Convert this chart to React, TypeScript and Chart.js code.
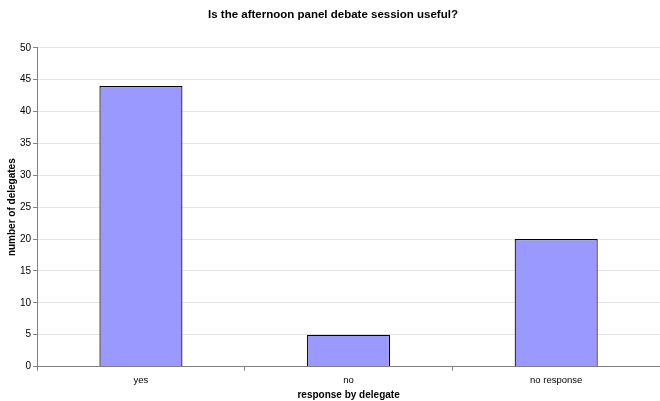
import React, { useEffect, useRef } from "react";
import { Chart, registerables } from "chart.js";

Chart.register(...registerables);

const categories = ["yes", "no", "no response"];
const delegates = [44, 5, 20];
const titleText = "Is the afternoon panel debate session useful?";
const xTitle = "response by delegate";
const yTitle = "number of delegates";

export default function App() {
  const ref = useRef<HTMLCanvasElement>(null);
  useEffect(() => {
    if (!ref.current) return;
    const chart = new Chart(ref.current, {
      type: "bar",
      data: {
        labels: categories,
        datasets: [
          {
            data: delegates,
            backgroundColor: "#9999ff",
            borderColor: "#000000",
            borderWidth: 1.2,
            borderSkipped: "bottom",
            barPercentage: 0.4,
            categoryPercentage: 1,
          },
        ],
      },
      options: {
        animation: false,
        responsive: false,
        layout: { padding: { left: 6, right: 0, top: 8, bottom: 0 } },
        plugins: {
          legend: { display: false },
          tooltip: { enabled: false },
          title: {
            display: true,
            text: titleText,
            color: "#000",
            font: { family: "Liberation Sans, Arial", size: 11.5, weight: "bold" },
            padding: { top: 0, bottom: 26 },
          },
        },
        scales: {
          x: {
            grid: { display: true, drawOnChartArea: false, drawTicks: true, tickLength: 4, color: "#808080", offset: true },
            border: { color: "#808080" },
            ticks: { color: "#000", font: { family: "Liberation Sans, Arial", size: 9.5 }, padding: 4 },
            title: {
              display: true,
              text: xTitle,
              color: "#000",
              font: { family: "Liberation Sans, Arial", size: 10, weight: "bold" },
              padding: { top: -1, bottom: 0 },
            },
          },
          y: {
            min: 0,
            max: 50,
            ticks: { stepSize: 5, color: "#000", font: { family: "Liberation Sans, Arial", size: 10 }, padding: 2 },
            grid: { color: "#e6e6e6", tickLength: 4, tickColor: "#808080" },
            border: { color: "#808080" },
            title: {
              display: true,
              text: yTitle,
              color: "#000",
              font: { family: "Liberation Sans, Arial", size: 10, weight: "bold" },
              padding: { top: 0, bottom: 0 },
            },
          },
        },
      },
    });
    return () => chart.destroy();
  }, []);
  return (
    <div style={{ position: "absolute", left: 0, top: 0, width: 660, height: 401, background: "#fff" }}>
      <canvas ref={ref} width={660} height={401} style={{ width: 660, height: 401 }} />
    </div>
  );
}
